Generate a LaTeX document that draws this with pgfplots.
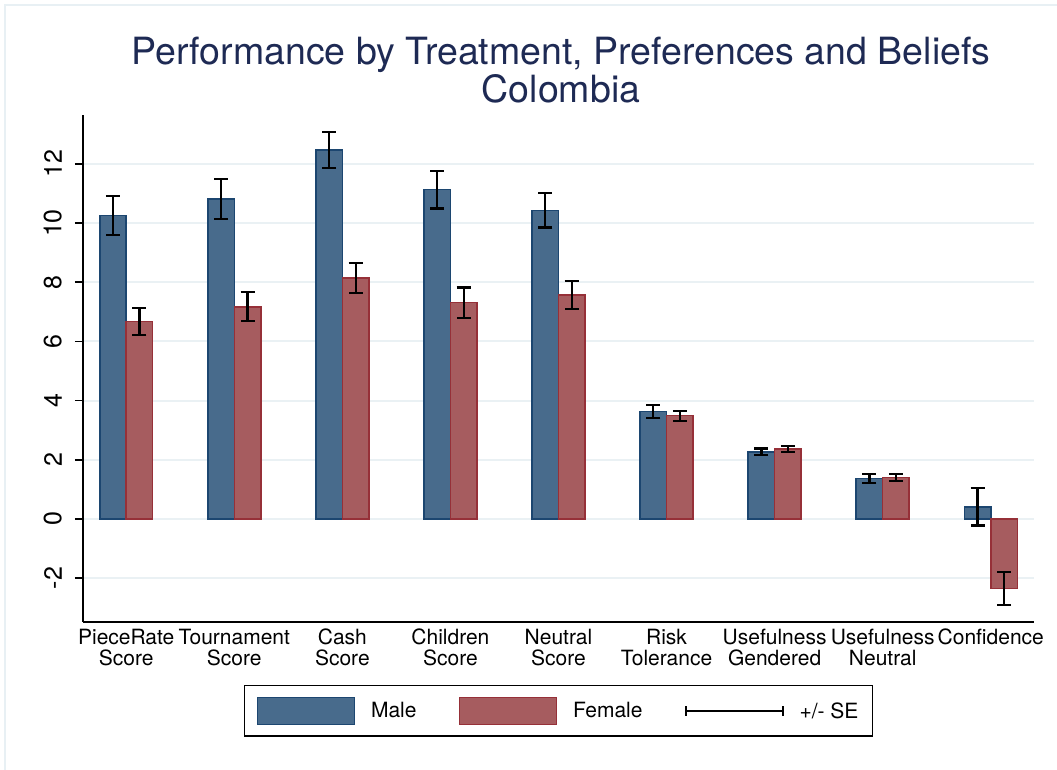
\documentclass[border=0pt]{standalone}
\usepackage{pgfplots}
\pgfplotsset{compat=1.18}
\usepackage{fontspec}
\setmainfont{TeX Gyre Heros}
\definecolor{mfill}{RGB}{72,107,140}
\definecolor{mdraw}{RGB}{28,70,112}
\definecolor{ffill}{RGB}{166,92,95}
\definecolor{fdraw}{RGB}{150,48,56}
\definecolor{gridc}{RGB}{234,241,244}
\definecolor{titlec}{RGB}{30,42,84}
\definecolor{framec}{RGB}{232,240,244}
\begin{document}
\begin{tikzpicture}[x=1pt,y=1pt]
\path[use as bounding box] (0,0) rectangle (1057,770);
\draw[framec, line width=2pt] (5,0) -- (5,765) -- (1057,765);
\node[titlec, align=center, font=\fontsize{37.5}{38}\selectfont] at (561,700) {Performance by Treatment, Preferences and Beliefs\\Colombia};
\begin{axis}[
  at={(83pt,148pt)}, anchor=south west,
  scale only axis, width=951pt, height=507pt,
  xmin=-0.4, xmax=8.4, ymin=-3.48, ymax=13.65,
  axis x line*=bottom, axis y line*=left,
  axis line style={line width=1.5pt, black},
  xtick={0,...,8},
  xticklabels={{PieceRate\\Score},{Tournament\\Score},{Cash\\Score},{Children\\Score},{Neutral\\Score},{Risk\\Tolerance},{Usefulness\\Gendered},{Usefulness\\Neutral},{Confidence}},
  xticklabel style={font=\fontsize{21}{21}\selectfont, align=center, inner sep=0pt, yshift=-7pt},
  major x tick style={draw=none},
  ytick={-2,0,2,4,6,8,10,12},
  ytick align=outside, major tick length=8pt,
  major y tick style={line width=1.5pt, black},
  /pgf/number format/assume math mode=true,
  yticklabel style={xshift=-13pt, font=\fontsize{25}{25}\selectfont, rotate=90, anchor=south, inner sep=0pt},
  ymajorgrids, grid style={gridc, line width=2pt},
  legend columns=3,
  legend style={at={(0.5,-0.1755)}, anchor=center, draw=black, line width=1.5pt,
    font=\fontsize{21}{21}\selectfont, inner xsep=12pt, inner ysep=11pt,
    /tikz/every even column/.append style={column sep=40pt},
    /tikz/every odd column/.append style={column sep=14pt}},
]
\addplot[ybar, bar width=0.245, bar shift=0pt, fill=mfill, draw=mdraw, line width=1.5pt,
  legend image code/.code={\draw[fill=mfill, draw=mdraw, line width=1.5pt] (0pt,-13.5pt) rectangle (97pt,13.5pt);},
  error bars/.cd, y dir=both, y explicit,
  error bar style={line width=2.2pt, black},
  error mark options={rotate=90, mark size=7pt, line width=2.2pt, black}]
coordinates {
(-0.1225,10.25) +- (0,0.66)
(0.8775,10.81) +- (0,0.67)
(1.8775,12.47) +- (0,0.60)
(2.8775,11.13) +- (0,0.64)
(3.8775,10.43) +- (0,0.58)
(4.8775,3.63) +- (0,0.23)
(5.8775,2.27) +- (0,0.11)
(6.8775,1.36) +- (0,0.15)
(7.8775,0.41) +- (0,0.63)
};
\addplot[ybar, bar width=0.245, bar shift=0pt, fill=ffill, draw=fdraw, line width=1.5pt,
  legend image code/.code={\draw[fill=ffill, draw=fdraw, line width=1.5pt] (0pt,-13.5pt) rectangle (97pt,13.5pt);},
  error bars/.cd, y dir=both, y explicit,
  error bar style={line width=2.2pt, black},
  error mark options={rotate=90, mark size=7pt, line width=2.2pt, black}]
coordinates {
(0.1225,6.67) +- (0,0.46)
(1.1225,7.17) +- (0,0.49)
(2.1225,8.15) +- (0,0.51)
(3.1225,7.31) +- (0,0.51)
(4.1225,7.57) +- (0,0.47)
(5.1225,3.49) +- (0,0.17)
(6.1225,2.37) +- (0,0.10)
(7.1225,1.40) +- (0,0.12)
(8.1225,-2.35) +- (0,0.56)
};
\addlegendimage{legend image code/.code={\draw[black, line width=2pt] (0pt,0pt) -- (97pt,0pt); \draw[black, line width=2pt] (0pt,-5pt) -- (0pt,5pt); \draw[black, line width=2pt] (97pt,-5pt) -- (97pt,5pt);}}
\legend{Male,Female,{+/- SE}}
\end{axis}
\end{tikzpicture}
\end{document}
